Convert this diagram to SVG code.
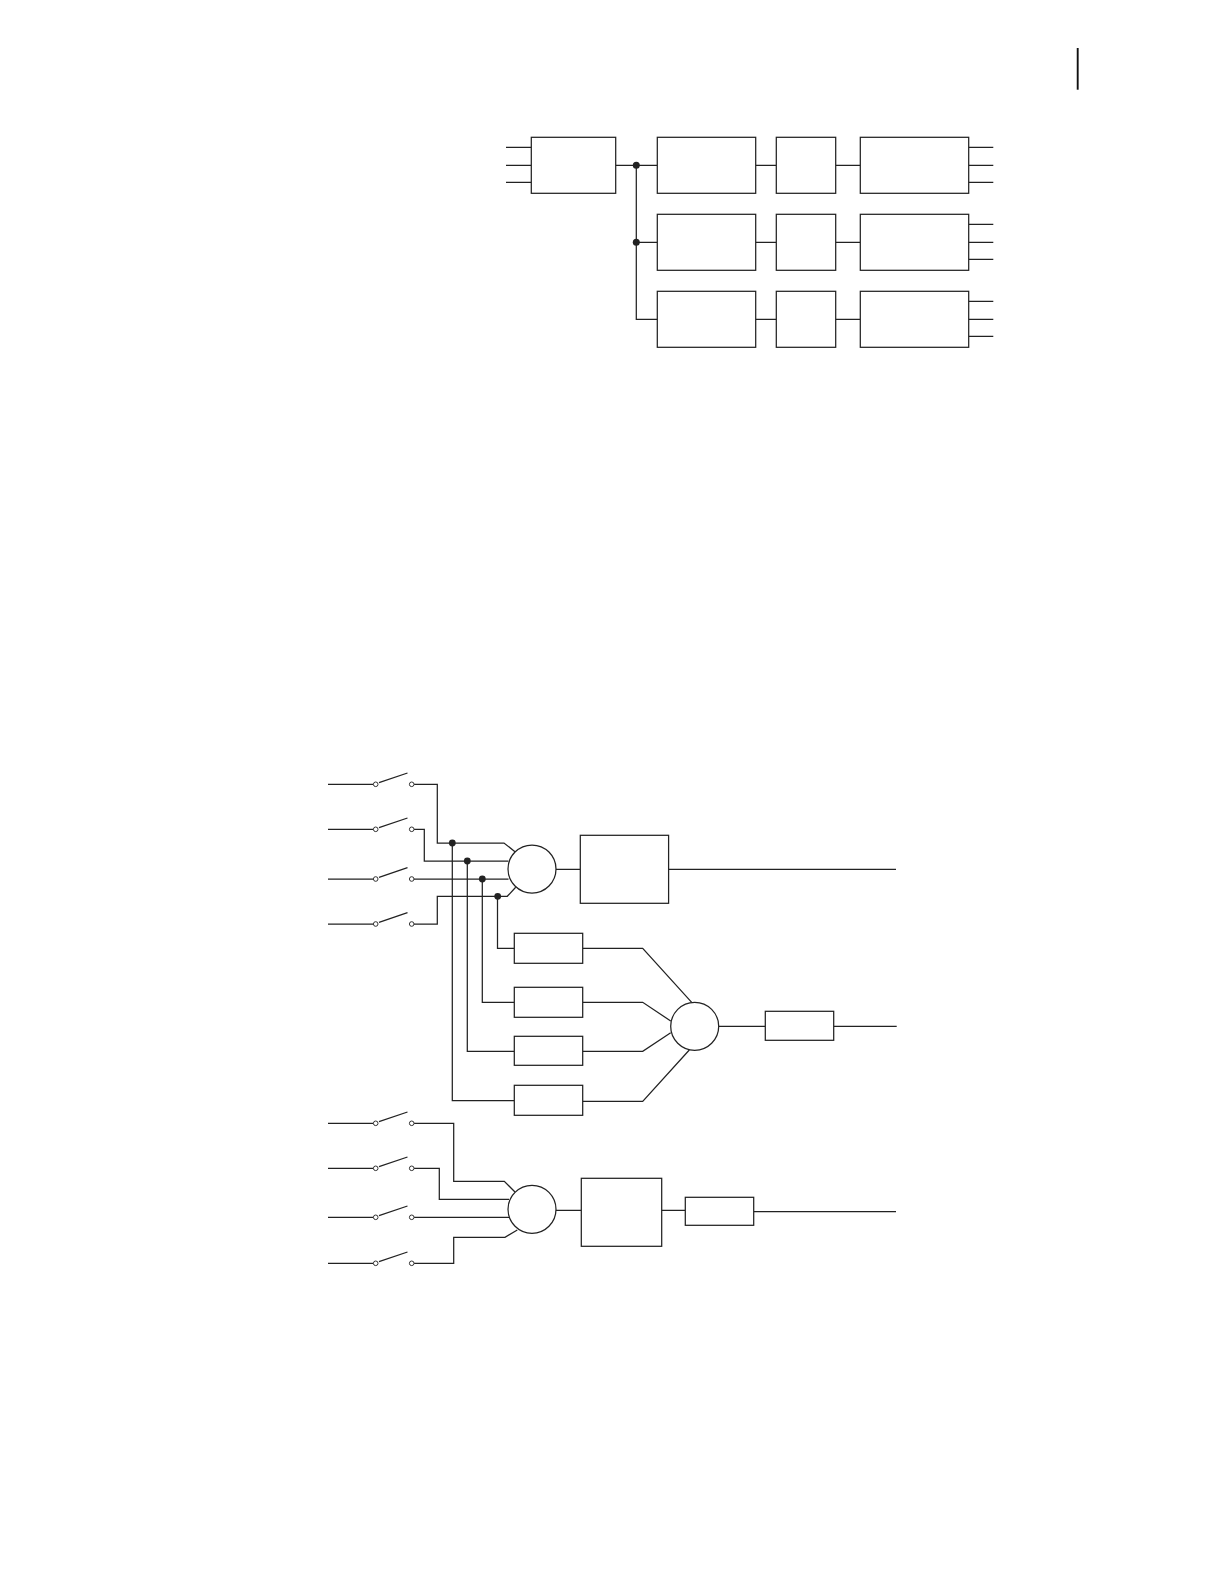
<svg xmlns="http://www.w3.org/2000/svg" xmlns:xlink="http://www.w3.org/1999/xlink" width="1224" height="1584" viewBox="0 0 1224 1584">
<style>
.b{fill:#fff;stroke:#222;stroke-width:1.25}
.c{fill:none;stroke:#222;stroke-width:1.25}
.j{fill:#222;stroke:none}
.t{fill:#fff;stroke:#333;stroke-width:1}
</style>
<defs>
<g id="sw">
<path class="c" d="M328 0H373.3"/>
<path class="c" d="M379 -1.7L407.5 -11.3"/>
<circle class="t" cx="375.7" cy="0" r="2.3"/>
<circle class="t" cx="411.7" cy="0" r="2.3"/>
</g>
</defs>
<rect width="1224" height="1584" fill="#fff"/>
<path d="M1077.7 48V89.7" fill="none" stroke="#111" stroke-width="1.9"/>
<g id="connectors">
<path class="c" d="M506 147.3H531.3M506 165.3H531.3M506 182.3H531.3"/>
<path class="c" d="M615.7 165.3H657.3M636.3 165.3V319.3H657.3M636.3 242.3H657.3"/>
<path class="c" d="M755.7 165.3H776.3M835.7 165.3H860.3M755.7 242.3H776.3M835.7 242.3H860.3M755.7 319.3H776.3M835.7 319.3H860.3"/>
<path class="c" d="M968.7 147.3H993.3M968.7 165.3H993.3M968.7 182.3H993.3M968.7 224.3H993.3M968.7 242.3H993.3M968.7 259.3H993.3M968.7 301.3H993.3M968.7 319.3H993.3M968.7 336.3H993.3"/>
<path class="c" d="M414 784.3H437.3V843H504L515 851.7"/>
<path class="c" d="M414 829.3H424.3V861H508.5"/>
<path class="c" d="M414 879H508.5"/>
<path class="c" d="M414 924H437.3V896.3H507.3L515.7 887.3"/>
<path class="c" d="M556 869.3H580.3M668.6 869.3H896"/>
<path class="c" d="M452.3 843V1100.7H514.3M467.3 861V1051.3H514.3M482.3 879V1002.3H514.3M497.5 896.3V948.3H514.3"/>
<path class="c" d="M582.7 948.3H642.7L691.7 1002.3"/>
<path class="c" d="M582.7 1002.3H642.7L670.7 1021"/>
<path class="c" d="M582.7 1051.3H642.7L670.7 1032.7"/>
<path class="c" d="M582.7 1101.3H642.7L689.3 1050"/>
<path class="c" d="M718.7 1026.3H765.3M833.7 1026.3H896.7"/>
<path class="c" d="M414 1123.3H453.7V1181.3H504.3L515 1192"/>
<path class="c" d="M414 1168.3H439.3V1199.3H509"/>
<path class="c" d="M414 1217.3H509"/>
<path class="c" d="M414 1263.3H453.7V1237.3H505L517.3 1230"/>
<path class="c" d="M556 1210.3H581.3M661.7 1210.3H685.3M753.7 1211.7H896"/>
</g>
<g id="junctions">
<circle class="j" cx="636.3" cy="165.3" r="3.5"/>
<circle class="j" cx="636.3" cy="242.3" r="3.5"/>
<circle class="j" cx="452.3" cy="843" r="3.4"/>
<circle class="j" cx="467.3" cy="861" r="3.4"/>
<circle class="j" cx="482.3" cy="879" r="3.4"/>
<circle class="j" cx="497.7" cy="896.3" r="3.4"/>
</g>
<g id="n1"><rect class="b" x="531.3" y="137.3" width="84.4" height="56"/></g>
<g id="n2"><rect class="b" x="657.3" y="137.3" width="98.4" height="56"/></g>
<g id="n3"><rect class="b" x="776.3" y="137.3" width="59.4" height="56"/></g>
<g id="n4"><rect class="b" x="860.3" y="137.3" width="108.4" height="56"/></g>
<g id="n5"><rect class="b" x="657.3" y="214.3" width="98.4" height="56"/></g>
<g id="n6"><rect class="b" x="776.3" y="214.3" width="59.4" height="56"/></g>
<g id="n7"><rect class="b" x="860.3" y="214.3" width="108.4" height="56"/></g>
<g id="n8"><rect class="b" x="657.3" y="291.3" width="98.4" height="56"/></g>
<g id="n9"><rect class="b" x="776.3" y="291.3" width="59.4" height="56"/></g>
<g id="n10"><rect class="b" x="860.3" y="291.3" width="108.4" height="56"/></g>
<g id="s1"><use xlink:href="#sw" href="#sw" y="784.3"/></g>
<g id="s2"><use xlink:href="#sw" href="#sw" y="829.3"/></g>
<g id="s3"><use xlink:href="#sw" href="#sw" y="879"/></g>
<g id="s4"><use xlink:href="#sw" href="#sw" y="924"/></g>
<g id="s5"><use xlink:href="#sw" href="#sw" y="1123.3"/></g>
<g id="s6"><use xlink:href="#sw" href="#sw" y="1168.3"/></g>
<g id="s7"><use xlink:href="#sw" href="#sw" y="1217.3"/></g>
<g id="s8"><use xlink:href="#sw" href="#sw" y="1263.3"/></g>
<g id="sum1"><circle class="b" cx="532" cy="869" r="24"/></g>
<g id="sum2"><circle class="b" cx="694.7" cy="1026.3" r="24"/></g>
<g id="sum3"><circle class="b" cx="532" cy="1209.3" r="24"/></g>
<g id="n11"><rect class="b" x="580.3" y="835.3" width="88.3" height="68"/></g>
<g id="n12"><rect class="b" x="514.3" y="933.3" width="68.4" height="30"/></g>
<g id="n13"><rect class="b" x="514.3" y="987.3" width="68.4" height="30"/></g>
<g id="n14"><rect class="b" x="514.3" y="1036.3" width="68.4" height="29"/></g>
<g id="n15"><rect class="b" x="514.3" y="1085.3" width="68.4" height="30"/></g>
<g id="n16"><rect class="b" x="765.3" y="1011.3" width="68.4" height="29"/></g>
<g id="n17"><rect class="b" x="581.3" y="1178.3" width="80.4" height="68"/></g>
<g id="n18"><rect class="b" x="685.3" y="1197.3" width="68.4" height="28"/></g>
</svg>
